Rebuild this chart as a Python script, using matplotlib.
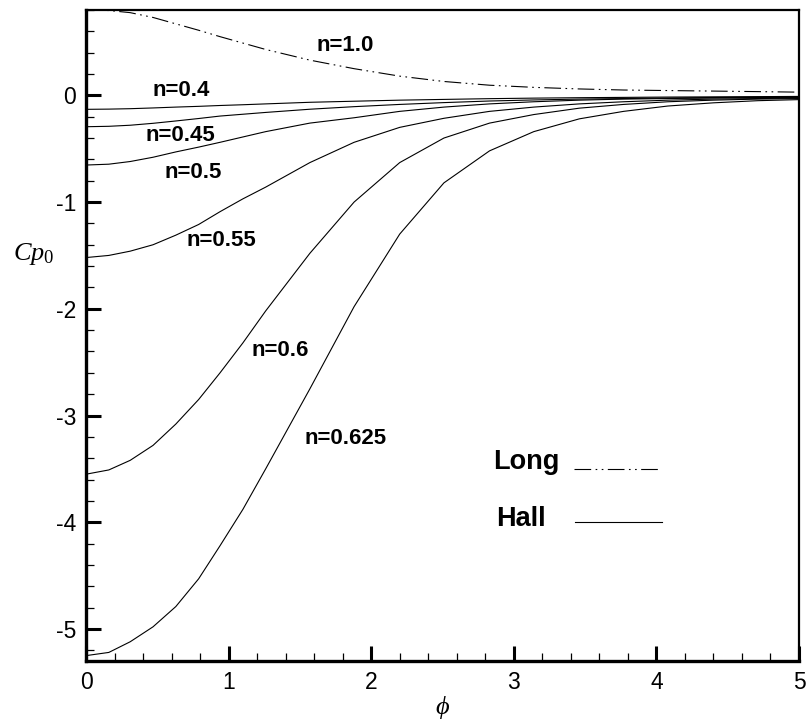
import matplotlib
matplotlib.use("Agg")
import matplotlib.pyplot as plt
from matplotlib.ticker import MultipleLocator
from matplotlib.lines import Line2D

plt.rcParams['font.family'] = ['Liberation Sans', 'DejaVu Sans']
plt.rcParams['mathtext.fontset'] = 'custom'
plt.rcParams['mathtext.it'] = 'Liberation Serif:italic'
plt.rcParams['mathtext.rm'] = 'Liberation Serif'
plt.rcParams['axes.unicode_minus'] = False

phi = [0.0, 0.16, 0.31, 0.47, 0.63, 0.79, 0.94, 1.10, 1.26, 1.57, 1.88, 2.20, 2.51, 2.83,
       3.14, 3.46, 3.77, 4.08, 4.40, 4.71, 5.0]

long_n10 = [0.80, 0.795, 0.775, 0.73, 0.67, 0.61, 0.55, 0.49, 0.43, 0.33, 0.25, 0.18, 0.13, 0.095,
            0.075, 0.06, 0.05, 0.045, 0.04, 0.035, 0.03]

hall = {
    "n=0.4":   [-0.131, -0.129, -0.125, -0.118, -0.11, -0.103, -0.095, -0.088, -0.08, -0.065, -0.055,
                -0.045, -0.038, -0.031, -0.026, -0.022, -0.019, -0.016, -0.014, -0.012, -0.01],
    "n=0.45":  [-0.294, -0.29, -0.28, -0.262, -0.24, -0.217, -0.194, -0.177, -0.16, -0.13, -0.106,
                -0.085, -0.068, -0.053, -0.043, -0.035, -0.03, -0.025, -0.02, -0.018, -0.015],
    "n=0.5":   [-0.653, -0.645, -0.62, -0.58, -0.53, -0.485, -0.44, -0.39, -0.34, -0.26, -0.21,
                -0.15, -0.11, -0.08, -0.06, -0.045, -0.035, -0.03, -0.025, -0.02, -0.02],
    "n=0.55":  [-1.52, -1.50, -1.46, -1.40, -1.31, -1.21, -1.09, -0.97, -0.86, -0.63, -0.44,
                -0.30, -0.215, -0.15, -0.11, -0.08, -0.06, -0.045, -0.035, -0.03, -0.025],
    "n=0.6":   [-3.55, -3.51, -3.42, -3.28, -3.08, -2.85, -2.60, -2.32, -2.02, -1.48, -1.00,
                -0.63, -0.40, -0.26, -0.18, -0.12, -0.085, -0.06, -0.045, -0.035, -0.03],
    "n=0.625": [-5.25, -5.22, -5.12, -4.98, -4.79, -4.53, -4.22, -3.88, -3.50, -2.75, -1.98,
                -1.30, -0.82, -0.52, -0.34, -0.22, -0.15, -0.10, -0.07, -0.05, -0.04],
}

curve_labels = ["n=1.0", "n=0.4", "n=0.45", "n=0.5", "n=0.55", "n=0.6", "n=0.625"]
label_x = [1.82, 0.67, 0.66, 0.75, 0.95, 1.36, 1.82]
label_y = [0.47, 0.05, -0.38, -0.72, -1.36, -2.39, -3.22]

fig = plt.figure(figsize=(8.06, 7.23), dpi=100)
ax = fig.add_axes([0.1067, 0.0858, 0.8846, 0.9004])

dashdotdot = (0, (15, 4, 1.5, 4, 1.5, 4))
ax.plot(phi, long_n10, color='black', lw=0.8, linestyle=dashdotdot)
for name, vals in hall.items():
    ax.plot(phi, vals, color='black', lw=0.8)

for t, x, y in zip(curve_labels, label_x, label_y):
    ax.text(x, y, t, fontsize=16, fontweight='bold', ha='center', va='center')

# legend-like annotation
ax.text(3.09, -3.44, "Long", fontsize=19.5, fontweight='bold', ha='center', va='center')
ax.text(3.05, -3.97, "Hall", fontsize=19.5, fontweight='bold', ha='center', va='center')
ax.add_line(Line2D([3.42, 4.03], [-3.50, -3.50], color='black', lw=0.8, linestyle=dashdotdot))
ax.add_line(Line2D([3.43, 4.04], [-4.0, -4.0], color='black', lw=0.8))

ax.set_xlim(0, 5)
ax.set_ylim(-5.3, 0.8)
ax.xaxis.set_major_locator(MultipleLocator(1))
ax.xaxis.set_minor_locator(MultipleLocator(0.2))
ax.yaxis.set_major_locator(MultipleLocator(1))
ax.yaxis.set_minor_locator(MultipleLocator(0.2))

ax.tick_params(which='major', direction='in', length=10.5, width=2.2, labelsize=16.5, pad=7,
               top=False, right=False)
ax.tick_params(which='minor', direction='in', length=6, width=0.9, top=False, right=False)

for side in ['left', 'bottom']:
    ax.spines[side].set_linewidth(2.4)
for side in ['top', 'right']:
    ax.spines[side].set_linewidth(1.6)

ax.set_xlabel(r'$\phi$', fontsize=19, labelpad=0)
ax.set_ylabel(r'$Cp_{\mathit{0}}$', fontsize=19, rotation=0, labelpad=0)
ax.yaxis.set_label_coords(-0.074, 0.605)

fig.savefig("out.png", dpi=100)
